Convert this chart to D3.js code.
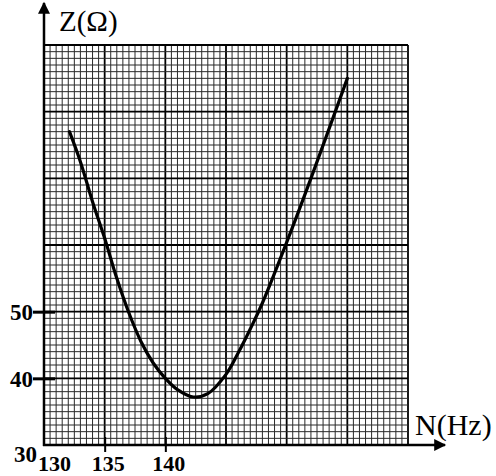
<!DOCTYPE html>
<html>
<head>
<meta charset="utf-8">
<script src="https://d3js.org/d3.v7.min.js"></script>
<style>
  body { margin: 0; background: #fff; }
  svg { display: block; }
</style>
</head>
<body>
<div id="chart"></div>
<script>
// readings: frequency (Hz) and impedance (ohm)
var freq = [132.1, 133, 134, 135, 136, 137, 138, 139, 140, 141, 142.3, 143.5, 145, 146, 147, 148, 150, 152, 155];
var imp  = [77, 72.5, 66.5, 61, 55, 49.8, 45.5, 42.3, 40, 38.3, 37.2, 37.7, 40.6, 43.8, 47.4, 51.3, 60.4, 70, 85];
var xTicks = [130, 135, 140];
var yTicks = [30, 40, 50];

var W = 496, H = 476;
var x = d3.scaleLinear().domain([130, 160]).range([44, 408]);
var y = d3.scaleLinear().domain([30, 90]).range([445, 45]);

var svg = d3.select("#chart").append("svg")
    .attr("width", W)
    .attr("height", H);

// graph paper
var grid = svg.append("g");
d3.range(130, 160.01, 0.5).forEach(function(v) {
    var major = Math.abs(v % 5) < 1e-6;
    grid.append("line")
        .attr("x1", x(v)).attr("x2", x(v))
        .attr("y1", y(30)).attr("y2", y(90))
        .attr("stroke", major ? "#000" : "#2a2a2a")
        .attr("stroke-width", major ? 1.8 : 1);
});
d3.range(30, 90.01, 1).forEach(function(v) {
    var major = Math.abs(v % 10) < 1e-6;
    grid.append("line")
        .attr("x1", x(130)).attr("x2", x(160))
        .attr("y1", y(v)).attr("y2", y(v))
        .attr("stroke", major ? "#000" : "#2a2a2a")
        .attr("stroke-width", major ? 1.8 : 1);
});

// arrows
svg.append("defs").append("marker")
    .attr("id", "arr")
    .attr("viewBox", "0 0 10 10")
    .attr("refX", 9).attr("refY", 5)
    .attr("markerUnits", "userSpaceOnUse")
    .attr("markerWidth", 15).attr("markerHeight", 12)
    .attr("orient", "auto")
  .append("path")
    .attr("d", "M0,0 L10,5 L0,10 Z")
    .attr("fill", "#000");

svg.append("line")
    .attr("x1", x(130)).attr("x2", x(130))
    .attr("y1", y(30) + 1).attr("y2", 3)
    .attr("stroke", "#000").attr("stroke-width", 2.5)
    .attr("marker-end", "url(#arr)");
svg.append("line")
    .attr("x1", x(130) - 1).attr("x2", 445)
    .attr("y1", y(30)).attr("y2", y(30))
    .attr("stroke", "#000").attr("stroke-width", 2.5)
    .attr("marker-end", "url(#arr)");

// x axis ticks
var xAxis = svg.append("g")
    .attr("transform", "translate(0," + y(30) + ")")
    .call(d3.axisBottom(x).tickValues(xTicks).tickSize(7).tickPadding(3));
xAxis.select(".domain").remove();
xAxis.selectAll(".tick line")
    .attr("y1", -8)
    .attr("stroke", "#000")
    .attr("stroke-width", function(d) { return d == 130 ? 0 : 2; });
xAxis.selectAll(".tick text")
    .attr("dx", function(d) { return d == 130 ? 10 : 3; })
    .style("font-family", "'Liberation Serif', serif")
    .style("font-weight", "bold")
    .style("font-size", "22px")
    .attr("fill", "#000");

// y axis ticks
var yAxis = svg.append("g")
    .attr("transform", "translate(" + x(130) + ",0)")
    .call(d3.axisLeft(y).tickValues(yTicks).tickSize(11).tickPadding(2));
yAxis.select(".domain").remove();
yAxis.selectAll(".tick line")
    .attr("x2", function(d) { return d == 30 ? 0 : -11; })
    .attr("x1", function(d) { return d == 30 ? 0 : 11; })
    .attr("stroke", "#000")
    .attr("stroke-width", 3);
yAxis.selectAll(".tick text")
    .attr("x", function(d) { return d == 30 ? -7 : -11; })
    .attr("dy", function(d) { return d == 30 ? "0.7em" : "0.35em"; })
    .style("font-family", "'Liberation Serif', serif")
    .style("font-weight", "bold")
    .style("font-size", "23px")
    .attr("fill", "#000");

// axis titles
svg.append("text")
    .attr("x", 59).attr("y", 31)
    .style("font-family", "'Liberation Serif', serif")
    .style("font-size", "29px")
    .text("Z(Ω)");
svg.append("text")
    .attr("x", 415).attr("y", 435)
    .style("font-family", "'Liberation Serif', serif")
    .style("font-size", "30px")
    .text("N(Hz)");

// resonance curve
var line = d3.line()
    .x(function(d, i) { return x(freq[i]); })
    .y(function(d, i) { return y(imp[i]); })
    .curve(d3.curveCatmullRom);
svg.append("path")
    .attr("d", line(freq))
    .attr("fill", "none")
    .attr("stroke", "#000")
    .attr("stroke-width", 3.2)
    .attr("stroke-linecap", "round");
</script>
</body>
</html>
